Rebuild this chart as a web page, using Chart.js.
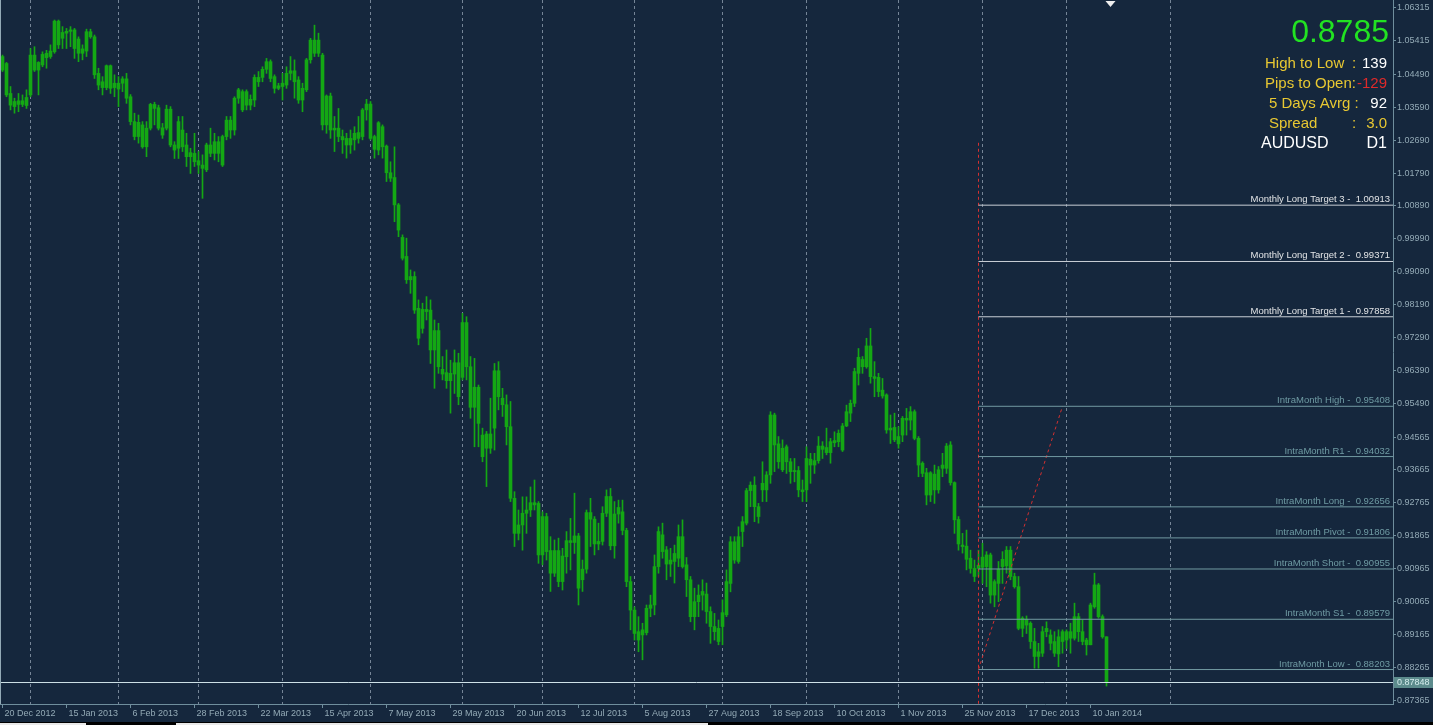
<!DOCTYPE html>
<html>
<head>
<meta charset="utf-8">
<title>AUDUSD D1</title>
<script src="https://cdn.jsdelivr.net/npm/chart.js@4.4.0/dist/chart.umd.min.js"></script>
<style>
  html, body { margin: 0; padding: 0; background: #15273d; overflow: hidden; }
  #chart { display: block; }
</style>
</head>
<body>
<canvas id="chart" width="1433" height="725"></canvas>
<script>
// daily bars, AUDUSD, 20 Dec 2012 .. 16 Jan 2014
const openP = [
  1.0498,1.0479,1.0397,1.0375,1.0367,1.0377,1.0364,1.0393,1.0502,1.0461,
  1.0475,1.0507,1.0498,1.0511,1.0595,1.0548,1.0562,1.0567,1.0571,1.0546,
  1.0507,1.0513,1.0566,1.0552,1.0452,1.0429,1.0413,1.0473,1.0413,1.0425,
  1.0425,1.0437,1.0388,1.0320,1.0279,1.0311,1.0251,1.0302,1.0367,1.0358,
  1.0303,1.0302,1.0354,1.0256,1.0247,1.0297,1.0256,1.0224,1.0233,1.0213,
  1.0201,1.0188,1.0256,1.0233,1.0265,1.0201,1.0279,1.0324,1.0297,1.0384,
  1.0402,1.0365,1.0381,1.0379,1.0441,1.0441,1.0463,1.0484,1.0443,1.0411,
  1.0416,1.0420,1.0452,1.0459,1.0434,1.0379,1.0407,1.0489,1.0543,1.0507,
  1.0502,1.0311,1.0390,1.0297,1.0302,1.0279,1.0274,1.0256,1.0270,1.0274,
  1.0279,1.0352,1.0368,1.0279,1.0242,1.0306,1.0253,1.0180,1.0167,1.0092,
  1.0003,0.9951,0.9887,0.9896,0.9809,0.9754,0.9806,0.9804,0.9695,0.9748,
  0.9642,0.9633,0.9611,0.9629,0.9660,0.9620,0.9770,0.9649,0.9538,0.9593,
  0.9462,0.9426,0.9465,0.9481,0.9638,0.9563,0.9545,0.9485,0.9289,0.9193,
  0.9216,0.9248,0.9257,0.9277,0.9275,0.9134,0.9239,0.9146,0.9084,0.9146,
  0.9061,0.9129,0.9173,0.9168,0.9186,0.9066,0.9095,0.9250,0.9232,0.9164,
  0.9171,0.9248,0.9294,0.9159,0.9246,0.9252,0.9201,0.9061,0.8983,0.8924,
  0.8915,0.8921,0.8988,0.8997,0.9102,0.9189,0.9148,0.9109,0.9116,0.9125,
  0.9184,0.9107,0.9066,0.8965,0.9006,0.9024,0.9027,0.8979,0.8938,0.8933,
  0.8938,0.8970,0.9056,0.9170,0.9116,0.9198,0.9221,0.9310,0.9325,0.9266,
  0.9312,0.9312,0.9353,0.9517,0.9438,0.9367,0.9430,0.9389,0.9362,0.9365,
  0.9312,0.9312,0.9396,0.9380,0.9392,0.9432,0.9428,0.9414,0.9447,0.9444,
  0.9421,0.9487,0.9522,0.9549,0.9631,0.9669,0.9649,0.9706,0.9622,0.9620,
  0.9585,0.9572,0.9476,0.9483,0.9438,0.9462,0.9508,0.9503,0.9526,0.9453,
  0.9385,0.9359,0.9298,0.9355,0.9312,0.9371,0.9371,0.9435,0.9332,0.9231,
  0.9161,0.9158,0.9125,0.9097,0.9097,0.9100,0.9102,0.9134,0.9024,0.9056,
  0.9102,0.9104,0.9147,0.9075,0.9047,0.8933,0.8958,0.8947,0.8897,0.8856,
  0.8865,0.8924,0.8915,0.8897,0.8863,0.8897,0.8924,0.8906,0.8906,0.8965,
  0.8924,0.8901,0.8888,0.8992,0.9052,0.8965,0.8910
];
const highP = [
  1.0502,1.0482,1.0416,1.0384,1.0397,1.0393,1.0407,1.0520,1.0525,1.0484,
  1.0511,1.0515,1.0530,1.0598,1.0598,1.0580,1.0575,1.0580,1.0575,1.0552,
  1.0530,1.0573,1.0573,1.0557,1.0466,1.0443,1.0475,1.0475,1.0448,1.0443,
  1.0443,1.0452,1.0394,1.0343,1.0338,1.0320,1.0320,1.0370,1.0373,1.0365,
  1.0315,1.0365,1.0361,1.0265,1.0334,1.0334,1.0288,1.0247,1.0288,1.0238,
  1.0229,1.0261,1.0302,1.0288,1.0279,1.0283,1.0334,1.0334,1.0388,1.0411,
  1.0407,1.0407,1.0393,1.0448,1.0457,1.0470,1.0493,1.0489,1.0448,1.0425,
  1.0452,1.0470,1.0498,1.0489,1.0443,1.0425,1.0493,1.0548,1.0584,1.0562,
  1.0507,1.0393,1.0398,1.0334,1.0356,1.0297,1.0288,1.0297,1.0306,1.0334,
  1.0356,1.0381,1.0375,1.0283,1.0320,1.0311,1.0256,1.0210,1.0251,1.0096,
  1.0010,1.0001,0.9914,0.9909,0.9832,0.9823,0.9841,0.9832,0.9777,0.9768,
  0.9677,0.9695,0.9667,0.9695,0.9686,0.9795,0.9786,0.9677,0.9672,0.9599,
  0.9481,0.9472,0.9563,0.9658,0.9663,0.9590,0.9572,0.9554,0.9307,0.9257,
  0.9293,0.9293,0.9320,0.9339,0.9280,0.9252,0.9248,0.9184,0.9175,0.9180,
  0.9152,0.9198,0.9234,0.9303,0.9193,0.9120,0.9257,0.9289,0.9239,0.9221,
  0.9266,0.9312,0.9316,0.9280,0.9284,0.9284,0.9207,0.9075,0.8992,0.8965,
  0.8947,0.8997,0.9024,0.9134,0.9211,0.9221,0.9157,0.9152,0.9161,0.9216,
  0.9230,0.9127,0.9075,0.9043,0.9052,0.9066,0.9057,0.8992,0.8974,0.8956,
  0.9011,0.9093,0.9184,0.9184,0.9211,0.9239,0.9316,0.9334,0.9348,0.9275,
  0.9389,0.9362,0.9526,0.9522,0.9458,0.9449,0.9435,0.9398,0.9398,0.9376,
  0.9339,0.9430,0.9412,0.9412,0.9458,0.9444,0.9481,0.9453,0.9471,0.9476,
  0.9494,0.9544,0.9558,0.9645,0.9699,0.9677,0.9727,0.9754,0.9663,0.9631,
  0.9617,0.9575,0.9517,0.9522,0.9485,0.9513,0.9535,0.9540,0.9531,0.9458,
  0.9389,0.9371,0.9362,0.9380,0.9376,0.9412,0.9439,0.9444,0.9334,0.9239,
  0.9193,0.9202,0.9147,0.9120,0.9147,0.9166,0.9143,0.9139,0.9066,0.9116,
  0.9143,0.9157,0.9157,0.9084,0.9075,0.8965,0.8967,0.8951,0.8933,0.8892,
  0.8938,0.8951,0.8929,0.8924,0.8929,0.8929,0.8929,0.8947,0.9002,0.8974,
  0.8956,0.8906,0.9002,0.9084,0.9056,0.8970,0.8910
];
const lowP = [
  1.0457,1.0388,1.0352,1.0343,1.0347,1.0361,1.0356,1.0388,1.0457,1.0393,
  1.0470,1.0466,1.0493,1.0507,1.0520,1.0520,1.0520,1.0525,1.0493,1.0484,
  1.0489,1.0498,1.0548,1.0438,1.0407,1.0393,1.0407,1.0397,1.0388,1.0361,
  1.0402,1.0370,1.0311,1.0270,1.0261,1.0247,1.0224,1.0297,1.0311,1.0297,
  1.0274,1.0297,1.0251,1.0219,1.0219,1.0238,1.0197,1.0178,1.0197,1.0178,
  1.0110,1.0183,1.0224,1.0215,1.0210,1.0197,1.0270,1.0274,1.0283,1.0370,
  1.0347,1.0352,1.0352,1.0361,1.0416,1.0429,1.0452,1.0429,1.0398,1.0407,
  1.0379,1.0411,1.0434,1.0384,1.0370,1.0347,1.0402,1.0480,1.0498,1.0498,
  1.0297,1.0288,1.0274,1.0238,1.0265,1.0233,1.0220,1.0233,1.0242,1.0261,
  1.0270,1.0324,1.0270,1.0220,1.0229,1.0220,1.0156,1.0156,1.0046,1.0005,
  0.9941,0.9877,0.9850,0.9795,0.9709,0.9741,0.9777,0.9658,0.9590,0.9631,
  0.9613,0.9590,0.9522,0.9576,0.9545,0.9613,0.9613,0.9508,0.9430,0.9430,
  0.9389,0.9321,0.9412,0.9421,0.9531,0.9513,0.9435,0.9280,0.9157,0.9175,
  0.9147,0.9193,0.9239,0.9257,0.9111,0.9107,0.9120,0.9034,0.9075,0.9047,
  0.9038,0.9084,0.9093,0.9138,0.8997,0.9034,0.9084,0.9157,0.9134,0.9148,
  0.9161,0.9239,0.9148,0.9125,0.9221,0.9189,0.9047,0.8929,0.8901,0.8869,
  0.8847,0.8915,0.8965,0.8970,0.9084,0.9125,0.9066,0.9075,0.9057,0.9102,
  0.9098,0.9020,0.8951,0.8929,0.8965,0.8983,0.8947,0.8892,0.8901,0.8888,
  0.8888,0.8965,0.9033,0.9111,0.9111,0.9157,0.9216,0.9266,0.9225,0.9221,
  0.9280,0.9280,0.9330,0.9362,0.9371,0.9362,0.9357,0.9330,0.9334,0.9293,
  0.9280,0.9280,0.9330,0.9357,0.9385,0.9398,0.9408,0.9385,0.9430,0.9430,
  0.9417,0.9485,0.9499,0.9540,0.9599,0.9631,0.9645,0.9604,0.9567,0.9567,
  0.9563,0.9467,0.9439,0.9444,0.9426,0.9444,0.9462,0.9476,0.9449,0.9348,
  0.9348,0.9271,0.9280,0.9275,0.9303,0.9348,0.9357,0.9325,0.9193,0.9147,
  0.9139,0.9093,0.9084,0.9061,0.9075,0.9056,0.9047,0.9002,0.8992,0.9006,
  0.9056,0.9084,0.9066,0.9043,0.8929,0.8910,0.8919,0.8878,0.8824,0.8824,
  0.8856,0.8910,0.8874,0.8856,0.8828,0.8865,0.8878,0.8865,0.8901,0.8897,
  0.8888,0.8860,0.8888,0.8988,0.8961,0.8906,0.8775
];
const closeP = [
  1.0461,1.0393,1.0365,1.0361,1.0377,1.0367,1.0386,1.0502,1.0461,1.0482,
  1.0504,1.0495,1.0513,1.0595,1.0530,1.0564,1.0567,1.0571,1.0520,1.0507,
  1.0519,1.0566,1.0552,1.0448,1.0420,1.0413,1.0473,1.0411,1.0425,1.0409,
  1.0437,1.0384,1.0320,1.0279,1.0318,1.0251,1.0302,1.0367,1.0356,1.0302,
  1.0283,1.0354,1.0256,1.0242,1.0320,1.0251,1.0224,1.0235,1.0210,1.0201,
  1.0192,1.0256,1.0233,1.0265,1.0233,1.0279,1.0324,1.0297,1.0384,1.0407,
  1.0352,1.0402,1.0365,1.0441,1.0429,1.0463,1.0484,1.0438,1.0411,1.0418,
  1.0425,1.0452,1.0459,1.0429,1.0379,1.0411,1.0489,1.0543,1.0507,1.0543,
  1.0311,1.0390,1.0297,1.0302,1.0279,1.0270,1.0256,1.0274,1.0288,1.0290,
  1.0352,1.0368,1.0274,1.0244,1.0317,1.0251,1.0180,1.0165,1.0092,1.0023,
  0.9946,0.9887,0.9896,0.9804,0.9727,0.9806,0.9800,0.9695,0.9748,0.9649,
  0.9629,0.9611,0.9631,0.9660,0.9567,0.9770,0.9649,0.9538,0.9593,0.9494,
  0.9403,0.9465,0.9426,0.9638,0.9567,0.9545,0.9485,0.9289,0.9193,0.9216,
  0.9248,0.9257,0.9277,0.9271,0.9134,0.9239,0.9143,0.9084,0.9146,0.9061,
  0.9131,0.9173,0.9168,0.9186,0.9043,0.9095,0.9250,0.9232,0.9164,0.9171,
  0.9248,0.9294,0.9159,0.9246,0.9264,0.9201,0.9061,0.8983,0.8919,0.8901,
  0.8929,0.8988,0.8997,0.9102,0.9198,0.9143,0.9109,0.9120,0.9138,0.9184,
  0.9102,0.9066,0.8965,0.9006,0.9024,0.9034,0.8979,0.8938,0.8924,0.8897,
  0.8976,0.9061,0.9170,0.9120,0.9184,0.9225,0.9310,0.9325,0.9266,0.9239,
  0.9330,0.9353,0.9517,0.9435,0.9389,0.9426,0.9389,0.9362,0.9365,0.9312,
  0.9307,0.9398,0.9380,0.9392,0.9432,0.9423,0.9414,0.9444,0.9441,0.9467,
  0.9487,0.9526,0.9549,0.9636,0.9675,0.9649,0.9706,0.9622,0.9617,0.9581,
  0.9569,0.9476,0.9481,0.9449,0.9458,0.9508,0.9503,0.9526,0.9453,0.9380,
  0.9357,0.9298,0.9359,0.9312,0.9367,0.9380,0.9432,0.9332,0.9230,0.9164,
  0.9157,0.9122,0.9097,0.9075,0.9106,0.9128,0.9134,0.9024,0.9061,0.9095,
  0.9122,0.9147,0.9075,0.9047,0.8933,0.8961,0.8942,0.8897,0.8856,0.8869,
  0.8924,0.8933,0.8892,0.8865,0.8910,0.8924,0.8901,0.8924,0.8965,0.8924,
  0.8897,0.8888,0.8997,0.9052,0.8965,0.8910,0.8785
];

// time axis: one label every 16 bars, dashed separator on first bar of each month
const tickLabels = ["20 Dec 2012", "15 Jan 2013", "6 Feb 2013", "28 Feb 2013", "22 Mar 2013",
  "15 Apr 2013", "7 May 2013", "29 May 2013", "20 Jun 2013", "12 Jul 2013", "5 Aug 2013",
  "27 Aug 2013", "18 Sep 2013", "10 Oct 2013", "1 Nov 2013", "25 Nov 2013", "17 Dec 2013", "10 Jan 2014"];
const tickEvery = 16;
const monthStartBars = [7, 29, 49, 70, 92, 115, 135, 158, 180, 201, 224, 245, 266, 292];

// price axis labels
const priceTicks = [1.06315, 1.05415, 1.04490, 1.03590, 1.02690, 1.01790, 1.00890, 0.99990,
  0.99090, 0.98190, 0.97290, 0.96390, 0.95490, 0.94565, 0.93665, 0.92765, 0.91865, 0.90965,
  0.90065, 0.89165, 0.88265, 0.87365];

// monthly / intra-month levels
const levelNames = ["Monthly Long Target 3", "Monthly Long Target 2", "Monthly Long Target 1",
  "IntraMonth High", "IntraMonth R1", "IntraMonth Long", "IntraMonth Pivot",
  "IntraMonth Short", "IntraMonth S1", "IntraMonth Low"];
const levelValues = [1.00913, 0.99371, 0.97858, 0.95408, 0.94032, 0.92656, 0.91806, 0.90955, 0.89579, 0.88203];
const levelStartBar = 244;   // end of Nov 2013
const monthEndBar = 265;     // end of Dec 2013
const redTop = 1.0262;
const lastPrice = 0.87848;

// info panel
const infoRows = [
  ["High to Low", ":", "139"],
  ["Pips to Open:", "", "-129"],
  ["5 Days Avrg :", "", "92"],
  ["Spread", ":", "3.0"],
  ["AUDUSD", "", "D1"]
];
const bidText = "0.8785";

const BG = '#15273d';
const GREEN = '#14a814';
const AXIS = '#6f8e9d';
const LABEL = '#93aab6';
const MONTHLY = '#c9cfd6';
const INTRA = '#729aa2';
const RED = '#d43030';
const FONT = 'Liberation Sans, Arial, sans-serif';

const xMin = -0.625;
const xMax = 347.625;
const yMin = 0.87260;
const yMax = 1.06528;

const wickData = highP.map((h, i) => ({ x: i, y: [lowP[i], h] }));
const bodyData = openP.map((o, i) => ({ x: i, y: [o, closeP[i]] }));

const levelSets = levelValues.map((v, k) => ({
  type: 'line',
  data: [{ x: levelStartBar, y: v }, { x: xMax, y: v }],
  borderColor: k < 3 ? MONTHLY : INTRA,
  borderWidth: 1,
  pointRadius: 0,
  order: 0
}));

const mt4 = {
  id: 'mt4',
  beforeDraw(chart) {
    const ctx = chart.ctx;
    ctx.save();
    ctx.fillStyle = BG;
    ctx.fillRect(0, 0, chart.width, chart.height);
    ctx.restore();
  },
  beforeDatasetsDraw(chart) {
    const { ctx, chartArea: a } = chart;
    const x = chart.scales.x;
    ctx.save();
    ctx.strokeStyle = 'rgba(150,166,182,0.75)';
    ctx.lineWidth = 1;
    ctx.setLineDash([3, 3]);
    monthStartBars.forEach(b => {
      const px = Math.floor(x.getPixelForValue(b)) + 0.5;
      ctx.beginPath();
      ctx.moveTo(px, a.top);
      ctx.lineTo(px, a.bottom);
      ctx.stroke();
    });
    ctx.restore();
  },
  afterDraw(chart) {
    const { ctx, chartArea: a } = chart;
    const x = chart.scales.x, y = chart.scales.y;
    ctx.save();

    // left frame
    ctx.strokeStyle = LABEL;
    ctx.beginPath();
    ctx.moveTo(0.5, a.top);
    ctx.lineTo(0.5, a.bottom);
    ctx.stroke();

    // level captions
    ctx.font = '9.5px ' + FONT;
    ctx.textAlign = 'right';
    ctx.textBaseline = 'alphabetic';
    levelValues.forEach((v, k) => {
      ctx.fillStyle = k < 3 ? '#e2e4e6' : '#6f9ba3';
      ctx.fillText(levelNames[k] + ' -  ' + v.toFixed(5), a.right - 3, y.getPixelForValue(v) - 3);
    });

    // last price tag on the axis
    const py = Math.round(y.getPixelForValue(lastPrice));
    ctx.font = '9px ' + FONT;
    ctx.fillStyle = '#5c8b8c';
    ctx.fillRect(a.right + 1, py - 6, 40, 11);
    ctx.fillStyle = '#d4ecec';
    ctx.textAlign = 'left';
    ctx.textBaseline = 'middle';
    ctx.fillText(lastPrice.toFixed(5), a.right + 4, py);

    // shift marker
    const sx = x.getPixelForValue(openP.length);
    ctx.fillStyle = '#eeeeee';
    ctx.beginPath();
    ctx.moveTo(sx - 5, 1);
    ctx.lineTo(sx + 5, 1);
    ctx.lineTo(sx, 7);
    ctx.closePath();
    ctx.fill();

    // info panel
    ctx.textBaseline = 'alphabetic';
    ctx.textAlign = 'right';
    ctx.fillStyle = '#22e222';
    ctx.font = '32px ' + FONT;
    ctx.fillText(bidText, 1389, 42);
    infoRows.forEach((r, k) => {
      const base = 68 + k * 20;
      const last = k === 4;
      ctx.textAlign = 'left';
      ctx.font = (last ? '16px ' : '15px ') + FONT;
      ctx.fillStyle = last ? '#ffffff' : '#e8c832';
      ctx.fillText(r[0], last ? 1261 : (k < 2 ? 1265 : 1269), base);
      if (r[1]) ctx.fillText(r[1], 1352, base);
      ctx.textAlign = 'right';
      ctx.fillStyle = k === 1 ? '#e02a2a' : (k === 3 ? '#e8c832' : '#ffffff');
      ctx.fillText(r[2], 1387, base);
    });

    // window strip at the very bottom
    ctx.fillStyle = '#000000';
    ctx.fillRect(0, 722, chart.width, 3);
    ctx.fillStyle = '#e8e8e8';
    ctx.fillRect(0, 723, 86, 2);
    ctx.fillRect(176, 723, 532, 2);
    ctx.restore();
  }
};

new Chart(document.getElementById('chart'), {
  type: 'bar',
  data: {
    datasets: [
      ...levelSets,
      {
        type: 'line',
        data: [{ x: xMin, y: lastPrice }, { x: xMax, y: lastPrice }],
        borderColor: '#cfe2e8', borderWidth: 1, pointRadius: 0, order: 0
      },
      {
        type: 'line',
        data: [{ x: levelStartBar, y: redTop }, { x: levelStartBar, y: yMin }],
        borderColor: RED, borderWidth: 1, borderDash: [3, 3], pointRadius: 0, order: 0
      },
      {
        type: 'line',
        data: [{ x: levelStartBar, y: levelValues[9] }, { x: monthEndBar, y: levelValues[3] }],
        borderColor: RED, borderWidth: 1, borderDash: [3, 3], pointRadius: 0, order: 0
      },
      {
        data: bodyData, backgroundColor: GREEN, barThickness: 3, minBarLength: 1,
        grouped: false, order: 1
      },
      {
        data: wickData, backgroundColor: GREEN, barThickness: 1,
        grouped: false, order: 2
      }
    ]
  },
  options: {
    responsive: false,
    animation: false,
    events: [],
    layout: { padding: 0 },
    plugins: { legend: { display: false }, tooltip: { enabled: false } },
    scales: {
      x: {
        type: 'linear',
        min: xMin, max: xMax,
        bounds: 'data',
        offset: false,
        grid: { offset: false, drawOnChartArea: false, drawTicks: true, tickLength: 4, color: AXIS },
        border: { color: AXIS },
        ticks: {
          autoSkip: false, maxRotation: 0, align: 'start', labelOffset: 2, padding: 0,
          color: LABEL, font: { family: FONT, size: 9 },
          callback: (v, i) => tickLabels[i]
        },
        afterBuildTicks: s => { s.ticks = tickLabels.map((t, k) => ({ value: k * tickEvery })); },
        afterFit: s => { s.height = 21; s.paddingLeft = 0; s.paddingRight = 0; }
      },
      y: {
        type: 'linear',
        position: 'right',
        min: yMin, max: yMax,
        bounds: 'data',
        beginAtZero: false,
        grid: { drawOnChartArea: false, drawTicks: true, tickLength: 3, color: AXIS },
        border: { color: AXIS },
        ticks: {
          autoSkip: false, padding: 1,
          color: LABEL, font: { family: FONT, size: 9 },
          callback: v => v.toFixed(5)
        },
        afterBuildTicks: s => { s.ticks = priceTicks.map(v => ({ value: v })); },
        afterFit: s => { s.width = 40; s.paddingTop = 0; s.paddingBottom = 0; }
      }
    }
  },
  plugins: [mt4]
});
</script>
</body>
</html>
